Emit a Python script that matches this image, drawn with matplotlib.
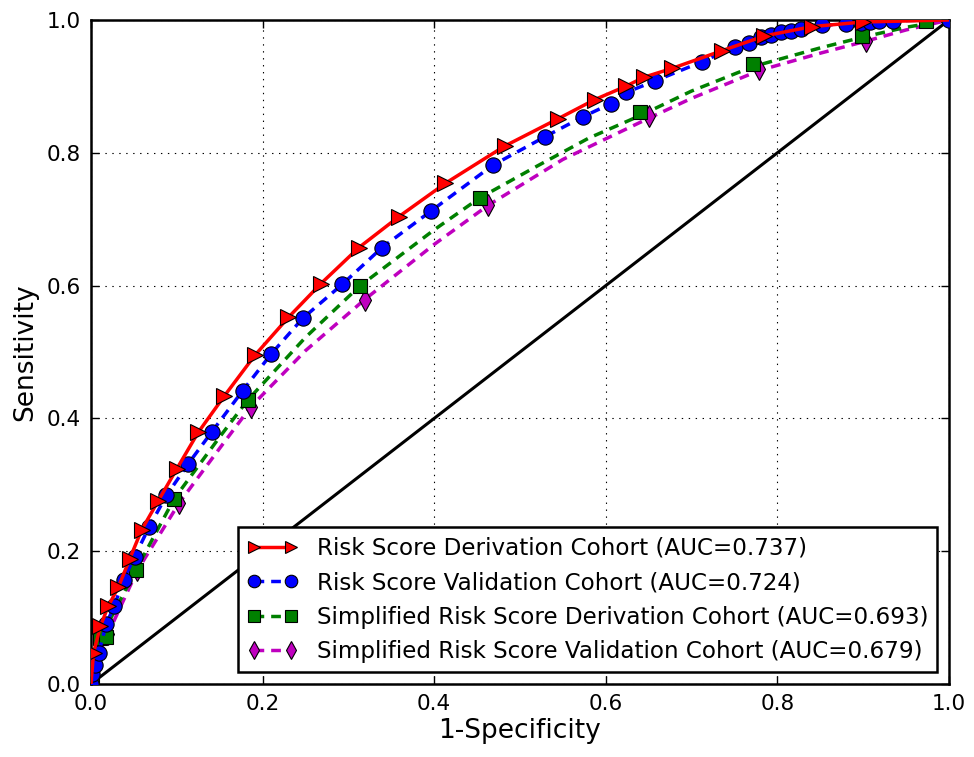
import matplotlib
matplotlib.use("Agg")
import matplotlib.pyplot as plt
from matplotlib.lines import Line2D

# === Data ===
labels = [
    "Risk Score Derivation Cohort (AUC=0.737)",
    "Risk Score Validation Cohort (AUC=0.724)",
    "Simplified Risk Score Derivation Cohort (AUC=0.693)",
    "Simplified Risk Score Validation Cohort (AUC=0.679)",
]

# Risk score derivation (red, solid)
rd_x = [0.0, 0.003, 0.011, 0.020, 0.032, 0.045, 0.059, 0.078, 0.100, 0.125,
        0.155, 0.191, 0.230, 0.268, 0.312, 0.359, 0.413, 0.482, 0.544, 0.587,
        0.623, 0.645, 0.677, 0.736, 0.785, 0.84, 0.90, 1.0]
rd_y = [0.0, 0.047, 0.087, 0.117, 0.146, 0.188, 0.232, 0.275, 0.324, 0.379,
        0.433, 0.495, 0.552, 0.603, 0.657, 0.704, 0.754, 0.810, 0.851, 0.880,
        0.900, 0.914, 0.927, 0.954, 0.976, 0.990, 0.997, 1.0]

# Risk score validation (blue, dashed)
rv_x = [0.0, 0.001, 0.005, 0.009, 0.018, 0.027, 0.038, 0.051, 0.068, 0.088,
        0.113, 0.141, 0.177, 0.210, 0.247, 0.293, 0.339, 0.396, 0.468, 0.529,
        0.573, 0.606, 0.624, 0.657, 0.712, 0.751, 0.767, 0.781, 0.792, 0.804,
        0.816, 0.828, 0.852, 0.880, 0.897, 0.908, 0.919, 0.935, 1.0]
rv_y = [0.0, 0.015, 0.029, 0.047, 0.091, 0.117, 0.157, 0.192, 0.237, 0.284,
        0.331, 0.380, 0.442, 0.497, 0.551, 0.602, 0.657, 0.712, 0.781, 0.824,
        0.854, 0.874, 0.891, 0.908, 0.937, 0.960, 0.966, 0.975, 0.978, 0.982,
        0.984, 0.987, 0.992, 0.994, 0.996, 0.997, 0.998, 0.999, 1.0]

# Simplified derivation (green): curve and marker points
sd_curve_x = [0.0, 0.011, 0.052, 0.097, 0.15, 0.183, 0.25, 0.313, 0.40, 0.453,
              0.52, 0.58, 0.64, 0.70, 0.772, 0.85, 0.899, 0.95, 1.0]
sd_curve_y = [0.0, 0.069, 0.171, 0.279, 0.372, 0.428, 0.522, 0.599, 0.684, 0.732,
              0.780, 0.822, 0.856, 0.893, 0.930, 0.958, 0.974, 0.989, 1.0]
sd_x = [0.001, 0.011, 0.017, 0.052, 0.097, 0.183, 0.313, 0.453, 0.640, 0.772, 0.899, 0.973]
sd_y = [0.011, 0.069, 0.071, 0.171, 0.279, 0.428, 0.599, 0.732, 0.862, 0.934, 0.976, 0.998]

# Simplified validation (magenta): curve and marker points
sv_curve_x = [0.0, 0.007, 0.020, 0.054, 0.103, 0.15, 0.186, 0.25, 0.319, 0.40,
              0.463, 0.55, 0.65, 0.70, 0.779, 0.85, 0.903, 0.95, 1.0]
sv_curve_y = [0.0, 0.040, 0.076, 0.171, 0.273, 0.355, 0.417, 0.502, 0.579, 0.662,
              0.721, 0.790, 0.852, 0.882, 0.924, 0.950, 0.968, 0.985, 1.0]
sv_x = [0.001, 0.004, 0.007, 0.020, 0.054, 0.103, 0.186, 0.319, 0.463, 0.650, 0.779, 0.903]
sv_y = [0.007, 0.022, 0.040, 0.076, 0.171, 0.273, 0.417, 0.579, 0.721, 0.856, 0.926, 0.969]

# === Style ===
plt.rcParams["font.family"] = "DejaVu Sans"
plt.rcParams["lines.scale_dashes"] = False
dash = (7, 5)

fig = plt.figure(figsize=(9.74, 7.57), dpi=100)
ax = fig.add_axes([0.0934, 0.0964, 0.8809, 0.8772])

ax.plot([0, 1], [0, 1], color="black", lw=2.2, zorder=2)

ax.plot(sv_curve_x, sv_curve_y, color="m", lw=2.5, dashes=dash, zorder=3)
ax.plot(sv_x, sv_y, ls="none", marker="d", ms=11, mfc="m", mec="black", mew=0.8, zorder=4)

ax.plot(sd_curve_x, sd_curve_y, color="green", lw=2.5, dashes=dash, zorder=3)
ax.plot(sd_x, sd_y, ls="none", marker="s", ms=10, mfc="green", mec="black", mew=0.8, zorder=4)

ax.plot(rv_x, rv_y, color="blue", lw=2.5, dashes=dash, zorder=5,
        marker="o", ms=11, mfc="blue", mec="black", mew=0.8)
ax.plot(rd_x, rd_y, color="red", lw=2.5, zorder=6,
        marker=">", ms=11, mfc="red", mec="black", mew=0.8, markevery=list(range(1, len(rd_x) - 1)))

ax.set_xlim(0, 1)
ax.set_ylim(0, 1)
ax.set_xticks([0, 0.2, 0.4, 0.6, 0.8, 1.0])
ax.set_yticks([0, 0.2, 0.4, 0.6, 0.8, 1.0])
ax.tick_params(direction="in", top=True, right=True, labelsize=15.5, length=6, width=1, pad=7)
ax.grid(True, color="black", linestyle=(0, (1, 4)), lw=0.8)
for s in ax.spines.values():
    s.set_linewidth(1.8)

ax.set_xlabel("1-Specificity", fontsize=19, labelpad=3)
ax.set_ylabel("Sensitivity", fontsize=19, labelpad=6)

handles = [
    Line2D([], [], color="red", lw=2.5, marker=">", ms=9, mfc="red", mec="black", mew=0.8),
    Line2D([], [], color="blue", lw=2.5, dashes=dash, marker="o", ms=9, mfc="blue", mec="black", mew=0.8),
    Line2D([], [], color="green", lw=2.5, dashes=dash, marker="s", ms=8, mfc="green", mec="black", mew=0.8),
    Line2D([], [], color="m", lw=2.5, dashes=dash, marker="d", ms=9, mfc="m", mec="black", mew=0.8),
]
leg = ax.legend(handles, labels, loc="lower right", fontsize=16.6, numpoints=2,
                fancybox=False, framealpha=1, edgecolor="black", handlelength=2.2,
                borderaxespad=0.5, labelspacing=0.5, borderpad=0.4)
leg.get_frame().set_linewidth(1.8)

fig.savefig("out.png", dpi=100, facecolor="white")
